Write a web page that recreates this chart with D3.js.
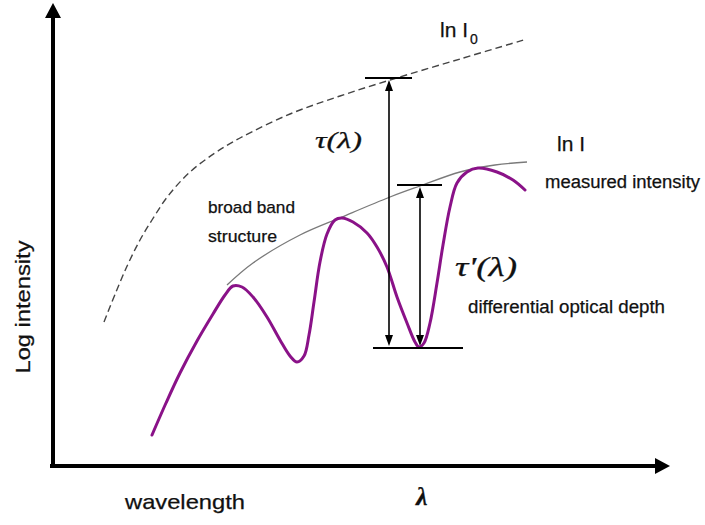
<!DOCTYPE html>
<html>
<head>
<meta charset="utf-8">
<script src="https://cdn.jsdelivr.net/npm/d3@7"></script>
<style>
  html, body { margin: 0; padding: 0; background: #fff; }
  svg { display: block; }
  text { fill: #111; stroke: #111; stroke-width: 0.25px; }
</style>
</head>
<body>
<svg id="chart" width="705" height="525"></svg>
<script>
// Schematic DOAS spectrum: wavelength vs. log intensity (arbitrary units).

// Measured intensity ln I (absorption structure), [wavelength, log intensity]
const measuredWl  = [99, 113, 127, 144, 160, 172, 180, 189, 200, 214, 227, 237, 244, 251, 256, 261, 267, 274, 282, 289, 300, 314, 324, 334, 344, 354, 362, 366, 371, 377, 384, 390, 397, 404, 414, 425, 444, 460, 472];
const measuredLog = [31, 63, 93, 125, 152, 171, 180, 179, 169, 149, 126, 110, 104, 110, 131, 164, 204, 232, 246, 248, 244, 233, 219, 199, 169, 143, 124, 119, 123, 143, 183, 221, 259, 283, 294, 298, 294, 286, 276];

// Broad band structure (smooth envelope of ln I)
const envelopeWl  = [174, 200, 247, 289, 337, 367, 407, 442, 474];
const envelopeLog = [181, 203, 231, 249, 269, 280, 294, 301, 304];

// Unattenuated intensity ln I0
const sourceWl  = [51, 63, 75, 87, 99, 115, 137, 162, 187, 237, 287, 337, 407, 474];
const sourceLog = [144, 174, 202, 226, 246, 270, 294, 313, 328, 352, 370, 386, 407, 427];

// Optical depth markers: [wavelength, log intensity]
const tauWl = 336, tauTop = 388, tauBottom = 118;      // tau(lambda)
const tauPrimeWl = 367, tauPrimeTop = 281;             // tau'(lambda)
const topBarWl = [312, 359];
const midBarWl = [344, 389];
const lowBarWl = [320, 410];

const svg = d3.select("#chart");

const x = d3.scaleLinear().domain([0, 620]).range([53, 673]);
const y = d3.scaleLinear().domain([0, 460]).range([466, 6]);

const zip = (a, b) => a.map((v, i) => [v, b[i]]);
const line = d3.line().x(d => x(d[0])).y(d => y(d[1])).curve(d3.curveCatmullRom.alpha(0.5));

function tri(points) {
  const p = d3.path();
  p.moveTo(points[0][0], points[0][1]);
  points.slice(1).forEach(q => p.lineTo(q[0], q[1]));
  p.closePath();
  return p.toString();
}

// Axes with arrow heads
const axisW = 4;
svg.append("line").attr("x1", x(0)).attr("x2", x(0)).attr("y1", y(-2)).attr("y2", 17)
  .attr("stroke", "#000").attr("stroke-width", axisW);
svg.append("path").attr("d", tri([[x(0) - 8, 18], [x(0), 3], [x(0) + 8, 18]])).attr("fill", "#000");
svg.append("line").attr("x1", x(-3)).attr("x2", 656).attr("y1", y(0)).attr("y2", y(0))
  .attr("stroke", "#000").attr("stroke-width", axisW);
svg.append("path").attr("d", tri([[655, y(0) - 8], [670, y(0)], [655, y(0) + 8]])).attr("fill", "#000");

// ln I0 (dashed)
svg.append("path").attr("d", line(zip(sourceWl, sourceLog)))
  .attr("fill", "none").attr("stroke", "#444").attr("stroke-width", 1.4)
  .attr("stroke-dasharray", "7,4");

// broad band envelope
svg.append("path").attr("d", line(zip(envelopeWl, envelopeLog)))
  .attr("fill", "none").attr("stroke", "#7a7a7a").attr("stroke-width", 1.3);

// measured intensity
svg.append("path").attr("d", line(zip(measuredWl, measuredLog)))
  .attr("fill", "none").attr("stroke", "#8a1288").attr("stroke-width", 3)
  .attr("stroke-linecap", "round").attr("stroke-linejoin", "round");

// bars
function hbar(wls, v) {
  svg.append("line").attr("x1", x(wls[0])).attr("x2", x(wls[1]))
    .attr("y1", y(v)).attr("y2", y(v)).attr("stroke", "#000").attr("stroke-width", 2);
}
hbar(topBarWl, tauTop);
hbar(midBarWl, tauPrimeTop);
hbar(lowBarWl, tauBottom);

// double headed vertical arrows
function head(px, py, dir) {
  svg.append("path").attr("d", tri([[px, py], [px - 4, py - dir * 11], [px + 4, py - dir * 11]]))
    .attr("fill", "#000");
}
function vArrow(wl, top, bottom) {
  const px = x(wl), y1 = y(top) + 2, y2 = y(bottom) - 2;
  svg.append("line").attr("x1", px).attr("x2", px).attr("y1", y1 + 6).attr("y2", y2 - 6)
    .attr("stroke", "#000").attr("stroke-width", 1.6);
  head(px, y1, -1);
  head(px, y2, 1);
}
vArrow(tauWl, tauTop, tauBottom);
vArrow(tauPrimeWl, tauPrimeTop, tauBottom);

// labels
const sans = "'Liberation Sans', Arial, sans-serif";
const serif = "'Liberation Serif', 'Times New Roman', serif";

function label(tx, ty, str, size, len, family, extra) {
  const t = svg.append("text").attr("x", tx).attr("y", ty)
    .attr("font-family", family || sans).attr("font-size", size).text(str);
  if (len) t.attr("textLength", len).attr("lengthAdjust", "spacingAndGlyphs");
  if (extra) extra(t);
  return t;
}

const i0 = svg.append("text").attr("x", 440).attr("y", 37)
  .attr("font-family", sans).attr("font-size", 21);
i0.append("tspan").text("ln I");
i0.append("tspan").attr("font-size", 14).attr("dx", 2).attr("dy", 7).text("0");

label(557, 151, "ln I", 21);
label(545, 188, "measured intensity", 18, 155);
label(208, 213, "broad band", 17, 87);
label(208, 242, "structure", 17, 69);
label(468, 313, "differential optical depth", 18, 197);

label(315, 148, "τ(λ)", 24, 47, serif, t => t.attr("font-style", "italic"));
label(455, 276, "τ'(λ)", 28, 62, serif, t => t.attr("font-style", "italic"));

label(125, 509, "wavelength", 21, 120);
label(416, 505, "λ", 26, null, serif, t => t.attr("font-style", "italic").attr("font-weight", "bold"));

svg.append("text").attr("transform", "translate(30,307) rotate(-90)")
  .attr("text-anchor", "middle").attr("font-family", sans).attr("font-size", 21)
  .attr("textLength", 133).attr("lengthAdjust", "spacingAndGlyphs")
  .text("Log intensity");
</script>
</body>
</html>
